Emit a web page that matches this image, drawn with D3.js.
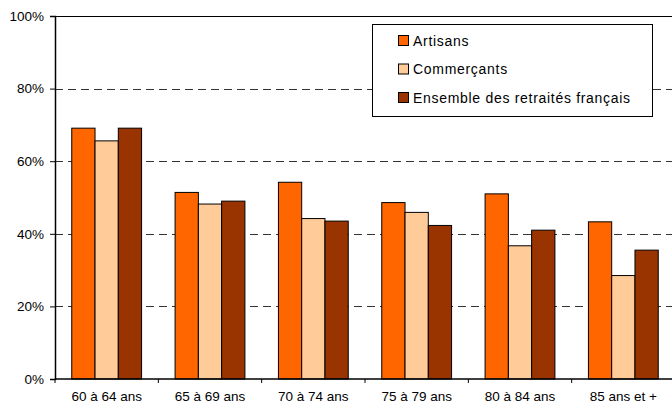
<!DOCTYPE html>
<html>
<head>
<meta charset="utf-8">
<title>Retraités par âge</title>
<style>
body { margin: 0; background: #fff; }
text { font-family: "Liberation Sans", Arial, sans-serif; font-size: 13px; fill: #000; }
.grid line { stroke: #333; stroke-dasharray: 8,5; }
</style>
</head>
<body>
<svg width="672" height="403"></svg>
<script src="https://cdn.jsdelivr.net/npm/d3@7"></script>
<script>

var categories = ["60 à 64 ans", "65 à 69 ans", "70 à 74 ans", "75 à 79 ans", "80 à 84 ans", "85 ans et +"];
var seriesNames = ["Artisans", "Commerçants", "Ensemble des retraités français"];
var artisans = [69.1, 51.4, 54.2, 48.6, 51.0, 43.3];
var commercants = [65.6, 48.2, 44.2, 45.9, 36.7, 28.5];
var ensemble = [69.1, 49.0, 43.5, 42.3, 41.0, 35.5];
var yTicks = [0, 20, 40, 60, 80, 100];
var colors = ["#ff6600", "#ffcc99", "#993300"];

var series = [artisans, commercants, ensemble];

var svg = d3.select("svg");
var plotLeft = 55, plotRight = 675, plotTop = 16, plotBottom = 379;

var x = d3.scaleBand().domain(categories).range([plotLeft, plotRight]);
var xs = d3.scaleBand().domain(d3.range(series.length))
    .range([0, x.bandwidth()]).paddingInner(0).paddingOuter(0.72);
var y = d3.scaleLinear().domain([0, 100]).range([plotBottom, plotTop]);

// dashed gridlines
svg.append("g")
    .attr("class", "grid")
  .selectAll("line")
  .data(yTicks.filter(function(d) { return d > 0 && d < 100; }))
  .enter().append("line")
    .attr("x1", plotLeft).attr("x2", plotRight)
    .attr("y1", function(d) { return Math.round(y(d)) + 0.5; })
    .attr("y2", function(d) { return Math.round(y(d)) + 0.5; });

// top border
svg.append("line")
    .attr("x1", plotLeft).attr("x2", plotRight)
    .attr("y1", y(100) + 0.5).attr("y2", y(100) + 0.5)
    .attr("stroke", "#000");

// bars
var group = svg.append("g").selectAll("g")
  .data(categories)
  .enter().append("g")
    .attr("transform", function(d) { return "translate(" + x(d) + ",0)"; });

group.selectAll("rect")
  .data(function(d, i) { return series.map(function(s, k) { return { k: k, v: s[i] }; }); })
  .enter().append("rect")
    .attr("x", function(d) { return xs(d.k); })
    .attr("width", xs.bandwidth())
    .attr("y", function(d) { return y(d.v); })
    .attr("height", function(d) { return plotBottom - y(d.v); })
    .attr("fill", function(d) { return colors[d.k]; })
    .attr("stroke", "#000")
    .attr("stroke-width", 1);

// y axis
var yAxis = svg.append("g")
    .attr("transform", "translate(" + plotLeft + ",0)")
    .call(d3.axisLeft(y).tickValues(yTicks).tickSize(5).tickPadding(6)
      .tickFormat(function(d) { return d + "%"; }));
yAxis.selectAll("text").style("font-size", "13.5px").style("font-family", "Liberation Sans, Arial, sans-serif");
yAxis.selectAll("line, path").attr("stroke", "#000");
yAxis.select("path").attr("stroke-width", 1.5);

// x axis
var xAxis = svg.append("g")
    .attr("transform", "translate(0," + plotBottom + ")");
xAxis.append("line")
    .attr("x1", plotLeft).attr("x2", plotRight)
    .attr("stroke", "#000").attr("stroke-width", 1.5);
xAxis.selectAll(".tk")
  .data(categories)
  .enter().append("line")
    .attr("x1", function(d) { return x(d); })
    .attr("x2", function(d) { return x(d); })
    .attr("y1", 0).attr("y2", 4)
    .attr("stroke", "#000");
xAxis.selectAll("text")
  .data(categories)
  .enter().append("text")
    .attr("x", function(d) { return x(d) + x.bandwidth() / 2; })
    .attr("y", 22)
    .attr("text-anchor", "middle")
    .style("font-size", "13.5px")
    .text(function(d) { return d; });

// legend
var legend = svg.append("g");
legend.append("rect")
    .attr("x", 372.5).attr("y", 24.5)
    .attr("width", 280).attr("height", 92)
    .attr("fill", "#fff").attr("stroke", "#000");
var item = legend.selectAll("g")
  .data(seriesNames)
  .enter().append("g")
    .attr("transform", function(d, i) { return "translate(0," + (40.5 + i * 28.5) + ")"; });
item.append("rect")
    .attr("x", 398.5).attr("y", -5)
    .attr("width", 10).attr("height", 10)
    .attr("fill", function(d, i) { return colors[i]; })
    .attr("stroke", "#000");
item.append("text")
    .attr("x", 413)
    .attr("y", 5)
    .style("font-size", "14px")
    .style("letter-spacing", "0.7px")
    .text(function(d) { return d; });

</script>
</body>
</html>
